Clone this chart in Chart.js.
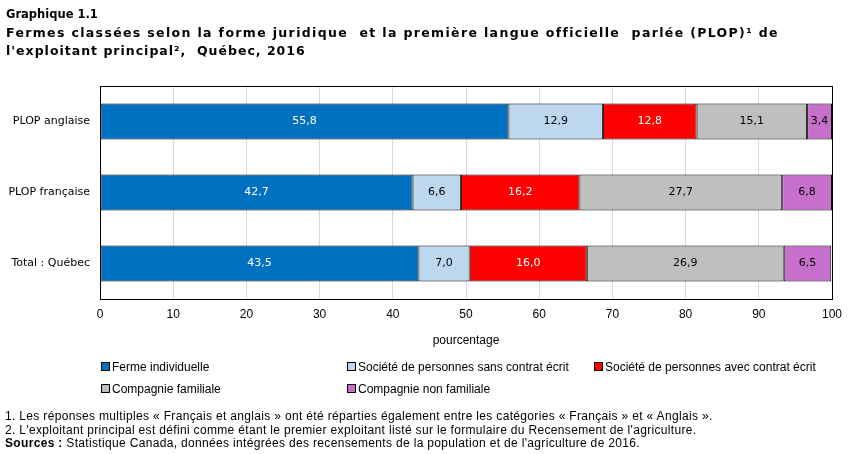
<!DOCTYPE html>
<html lang="fr">
<head>
<meta charset="utf-8">
<script src="https://cdn.jsdelivr.net/npm/chart.js@4/dist/chart.umd.min.js"></script>
<style>
  html, body { margin: 0; padding: 0; background: #fff; }
  #wrap { position: relative; width: 851px; height: 454px; overflow: hidden; }
  #c { position: absolute; left: 0; top: 0; }
  .title { position: absolute; left: 6px; top: 6px; font-family: "DejaVu Sans", Verdana, sans-serif; font-weight: bold; font-size: 11.5px; line-height: 17.5px; color: #000; white-space: pre; }
  .title .wide { font-size: 12.5px; letter-spacing: 1.35px; }
  .title .wide3 { font-size: 12.5px; letter-spacing: 1.0px; }
  .legend-item { position: absolute; font-family: "Liberation Sans", Arial, sans-serif; font-size: 12px; color: #000; white-space: pre; line-height: 14px; }
  .legend-item .box { display: inline-block; width: 7px; height: 7px; border: 1px solid #000; margin-right: 2px; vertical-align: 0px; }
  .notes { position: absolute; left: 5px; top: 410px; font-family: "Liberation Sans", Arial, sans-serif; font-size: 12px; letter-spacing: 0.33px; line-height: 13.5px; color: #000; white-space: pre; }
</style>
</head>
<body>
<div id="wrap">
  <canvas id="c" width="851" height="454"></canvas>
  <div class="title">Graphique 1.1
<span class="wide">Fermes classées selon la forme juridique  et la première langue officielle  parlée (PLOP)¹ de</span>
<span class="wide3">l'exploitant principal²,  Québec, 2016</span></div>
  <div id="legend"></div>
  <div class="notes">1. Les réponses multiples « Français et anglais » ont été réparties également entre les catégories « Français » et « Anglais ».
2. L'exploitant principal est défini comme étant le premier exploitant listé sur le formulaire du Recensement de l'agriculture.
<b>Sources :</b> Statistique Canada, données intégrées des recensements de la population et de l'agriculture de 2016.</div>
</div>
<script>
// ---- Data ----
const categories = ["PLOP anglaise", "PLOP française", "Total : Québec"];
const seriesNames = [
  "Ferme individuelle",
  "Société de personnes sans contrat écrit",
  "Société de personnes avec contrat écrit",
  "Compagnie familiale",
  "Compagnie non familiale"
];
const fermeIndividuelle = [55.8, 42.7, 43.5];
const societeSansContrat = [12.9, 6.6, 7.0];
const societeAvecContrat = [12.8, 16.2, 16.0];
const compagnieFamiliale = [15.1, 27.7, 26.9];
const compagnieNonFamiliale = [3.4, 6.8, 6.5];
const xTicks = [0, 10, 20, 30, 40, 50, 60, 70, 80, 90, 100];
const xAxisTitle = "pourcentage";

// ---- Styles ----
const colors = ["#0070C0", "#BDD7EE", "#FF0000", "#BFBFBF", "#C670CC"];
const labelColors = ["#FFFFFF", "#000000", "#FFFFFF", "#000000", "#000000"];
const seriesValues = [fermeIndividuelle, societeSansContrat, societeAvecContrat, compagnieFamiliale, compagnieNonFamiliale];

const datasets = seriesNames.map((name, i) => ({
  label: name,
  data: seriesValues[i],
  backgroundColor: colors[i],
  borderColor: "#000000",
  borderWidth: 1,
  borderSkipped: false,
  barPercentage: 0.507,
  categoryPercentage: 1.0
}));

const valueLabels = {
  id: "valueLabels",
  afterDatasetsDraw(chart) {
    const ctx = chart.ctx;
    ctx.save();
    ctx.font = "11px 'DejaVu Sans', Verdana, sans-serif";
    ctx.textAlign = "center";
    ctx.textBaseline = "middle";
    chart.data.datasets.forEach((ds, di) => {
      const meta = chart.getDatasetMeta(di);
      meta.data.forEach((el, i) => {
        const v = ds.data[i];
        const cx = (el.x + el.base) / 2;
        ctx.fillStyle = labelColors[di];
        ctx.fillText(v.toFixed(1).replace(".", ","), cx, el.y);
      });
    });
    ctx.restore();
  }
};

const frame = {
  id: "frame",
  afterDraw(chart) {
    const a = chart.chartArea;
    const ctx = chart.ctx;
    ctx.save();
    ctx.strokeStyle = "#000";
    ctx.lineWidth = 1;
    ctx.strokeRect(Math.round(a.left) + 0.5, Math.round(a.top) + 0.5, Math.round(a.right - a.left), Math.round(a.bottom - a.top));
    ctx.restore();
  }
};

new Chart(document.getElementById("c"), {
  type: "bar",
  data: { labels: categories, datasets },
  options: {
    indexAxis: "y",
    responsive: false,
    animation: false,
    layout: { padding: { left: 0, top: 86, right: 19, bottom: 106 } },
    plugins: {
      legend: { display: false },
      tooltip: { enabled: false },
      title: { display: false }
    },
    scales: {
      x: {
        stacked: true,
        min: 0,
        max: 100,
        afterBuildTicks(s) { s.ticks = xTicks.map(v => ({ value: v })); },
        afterFit(s) { s.height = 49; },
        grid: { color: "#D9D9D9", lineWidth: 1, drawTicks: false },
        border: { display: true, color: "#000" },
        ticks: {
          padding: 8,
          color: "#000",
          font: { family: "'Liberation Sans', Arial, sans-serif", size: 12 },
          maxRotation: 0
        },
        title: {
          display: true,
          text: xAxisTitle,
          color: "#000",
          padding: 0,
          font: { family: "'Liberation Sans', Arial, sans-serif", size: 12 }
        }
      },
      y: {
        stacked: true,
        afterFit(s) { s.width = 100; },
        grid: { display: false, drawTicks: false },
        border: { display: true, color: "#000" },
        ticks: {
          padding: 10,
          color: "#000",
          font: { family: "'DejaVu Sans', Verdana, sans-serif", size: 11 }
        }
      }
    }
  },
  plugins: [valueLabels, frame]
});

// ---- HTML legend in columns ----
const legendPos = [
  { left: 101, top: 360 },
  { left: 347, top: 360 },
  { left: 594, top: 360 },
  { left: 101, top: 382 },
  { left: 347, top: 382 }
];
const legendEl = document.getElementById("legend");
seriesNames.forEach((name, i) => {
  const d = document.createElement("div");
  d.className = "legend-item";
  d.style.left = legendPos[i].left + "px";
  d.style.top = legendPos[i].top + "px";
  const b = document.createElement("span");
  b.className = "box";
  b.style.background = colors[i];
  d.appendChild(b);
  d.appendChild(document.createTextNode(name));
  legendEl.appendChild(d);
});
</script>
</body>
</html>
